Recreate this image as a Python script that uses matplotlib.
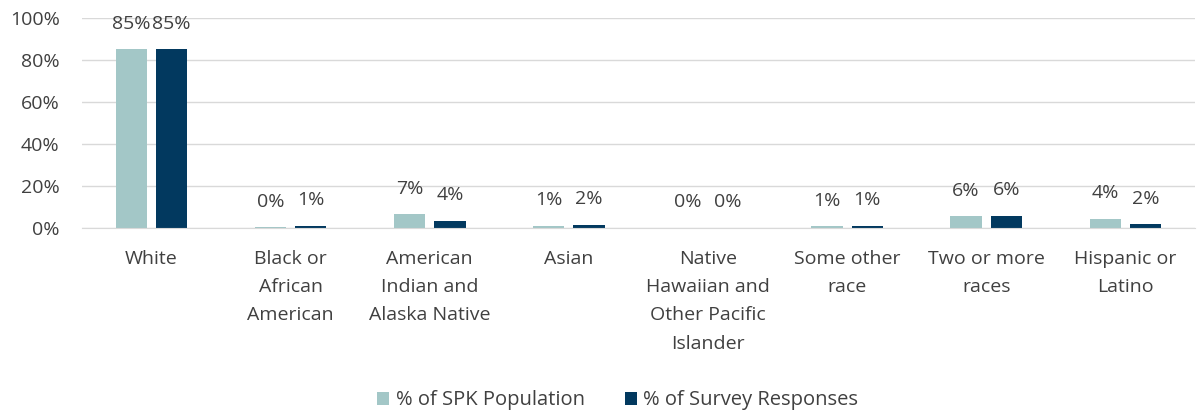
import matplotlib
matplotlib.use("Agg")
import matplotlib.pyplot as plt
import numpy as np
from matplotlib.ticker import PercentFormatter

categories = ["White", "Black or\nAfrican\nAmerican", "American\nIndian and\nAlaska Native", "Asian",
              "Native\nHawaiian and\nOther Pacific\nIslander", "Some other\nrace", "Two or more\nraces",
              "Hispanic or\nLatino"]
spk_population = [0.85, 0.003, 0.066, 0.010, 0.002, 0.008, 0.056, 0.043]
survey_responses = [0.85, 0.010, 0.035, 0.017, 0.001, 0.010, 0.058, 0.018]
series_names = ["% of SPK Population", "% of Survey Responses"]
colors = ["#A3C7C7", "#02395F"]

plt.rcParams['font.family'] = ['Open Sans', 'DejaVu Sans']
fig = plt.figure(figsize=(12.04, 4.17), dpi=100)
ax = fig.add_axes([0.068, 0.453, 0.9245, 0.504])

x = np.arange(len(categories))
w = 0.225
gap = 0.065
off = (w + gap) / 2
b1 = ax.bar(x - off, spk_population, w, color=colors[0], label=series_names[0], zorder=3)
b2 = ax.bar(x + off, survey_responses, w, color=colors[1], label=series_names[1], zorder=3)
for bars, vals in ((b1, spk_population), (b2, survey_responses)):
    ax.bar_label(bars, labels=[f"{v*100:.0f}%" for v in vals], padding=12, fontsize=14, color="#404040")

ax.set_xlim(-0.5, len(categories) - 0.5)
ax.set_ylim(0, 1.0)
ax.set_yticks(np.arange(0, 1.01, 0.2))
ax.yaxis.set_major_formatter(PercentFormatter(1.0, decimals=0))
ax.set_xticks(x)
ax.set_xticklabels(categories, fontsize=14, color="#404040", linespacing=1.72)
ax.tick_params(axis='y', labelsize=14, colors="#404040", length=0, pad=16)
ax.tick_params(axis='x', length=0, pad=16)
ax.grid(axis='y', color="#d9d9d9", linewidth=1, zorder=0)
for s in ("top", "right", "left"):
    ax.spines[s].set_visible(False)
ax.spines["bottom"].set_color("#d9d9d9")
ax.spines["bottom"].set_zorder(4)

fig.legend(loc="center", bbox_to_anchor=(0.513, 0.04), ncol=2, frameon=False, fontsize=14.5,
           handlelength=0.6, handleheight=0.6, columnspacing=2.0, handletextpad=0.3,
           labelcolor="#404040")
fig.savefig("out.png", dpi=100)
